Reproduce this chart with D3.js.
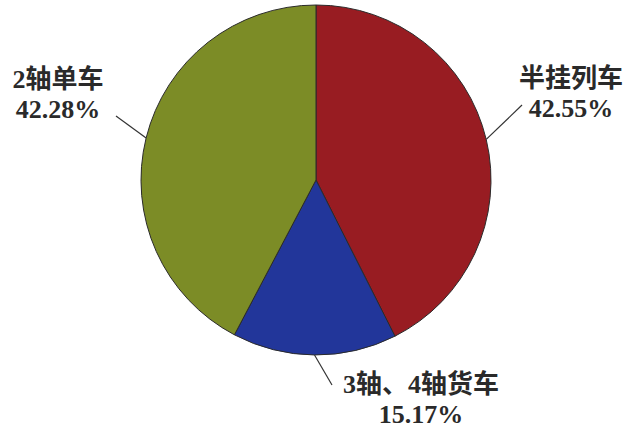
<!DOCTYPE html>
<html>
<head>
<meta charset="utf-8">
<script src="https://cdn.jsdelivr.net/npm/d3@7"></script>
<style>
  html, body { margin: 0; padding: 0; background: #ffffff; }
  svg { display: block; }
  .lbl { font-family: "Liberation Serif", "Noto Sans CJK SC", serif; font-weight: bold; font-size: 26px; fill: #2a2a2a; }
</style>
</head>
<body>
<svg id="chart" width="627" height="430"></svg>
<script>
// Share of traffic by vehicle type
const categories = ["半挂列车", "3轴、4轴货车", "2轴单车"];
const shares = [42.55, 15.17, 42.28];
const shareLabels = ["42.55%", "15.17%", "42.28%"];
const colors = ["#981c22", "#22369a", "#7c8c26"];

const W = 627, H = 430;
const cx = 316, cy = 180, r = 175;

const svg = d3.select("#chart");
const g = svg.append("g").attr("transform", `translate(${cx},${cy})`);

const pie = d3.pie().sort(null).value(d => d.v);
const arc = d3.arc().innerRadius(0).outerRadius(r);

const rows = categories.map((c, i) => ({ name: c, v: shares[i], label: shareLabels[i], color: colors[i] }));
const arcs = pie(rows);

g.selectAll("path.slice")
  .data(arcs)
  .join("path")
  .attr("class", "slice")
  .attr("d", arc)
  .attr("fill", d => d.data.color)
  .attr("stroke", "#2b2b2b")
  .attr("stroke-width", 1);

// label placement: text anchor (centre of text block) and leader end point, relative to pie centre
const labelLayout = [
  { tx: 255, ty: -93, lx: 206, ly: -75 },   // right
  { tx: 105, ty: 213, lx: 16,  ly: 205 },   // bottom
  { tx: -258, ty: -92, lx: -200, ly: -64 }  // left
];

arcs.forEach((a, i) => {
  const mid = (a.startAngle + a.endAngle) / 2;
  const x0 = r * Math.sin(mid), y0 = -r * Math.cos(mid);
  const L = labelLayout[i];
  g.append("line")
    .attr("x1", x0).attr("y1", y0)
    .attr("x2", L.lx).attr("y2", L.ly)
    .attr("stroke", "#333")
    .attr("stroke-width", 1.2);
  const t = g.append("text")
    .attr("class", "lbl")
    .attr("text-anchor", "middle")
    .attr("x", L.tx)
    .attr("y", L.ty);
  t.append("tspan").attr("x", L.tx).attr("dy", 0).text(a.data.name);
  t.append("tspan").attr("x", L.tx).attr("dy", 30).text(a.data.label);
});
</script>
</body>
</html>
